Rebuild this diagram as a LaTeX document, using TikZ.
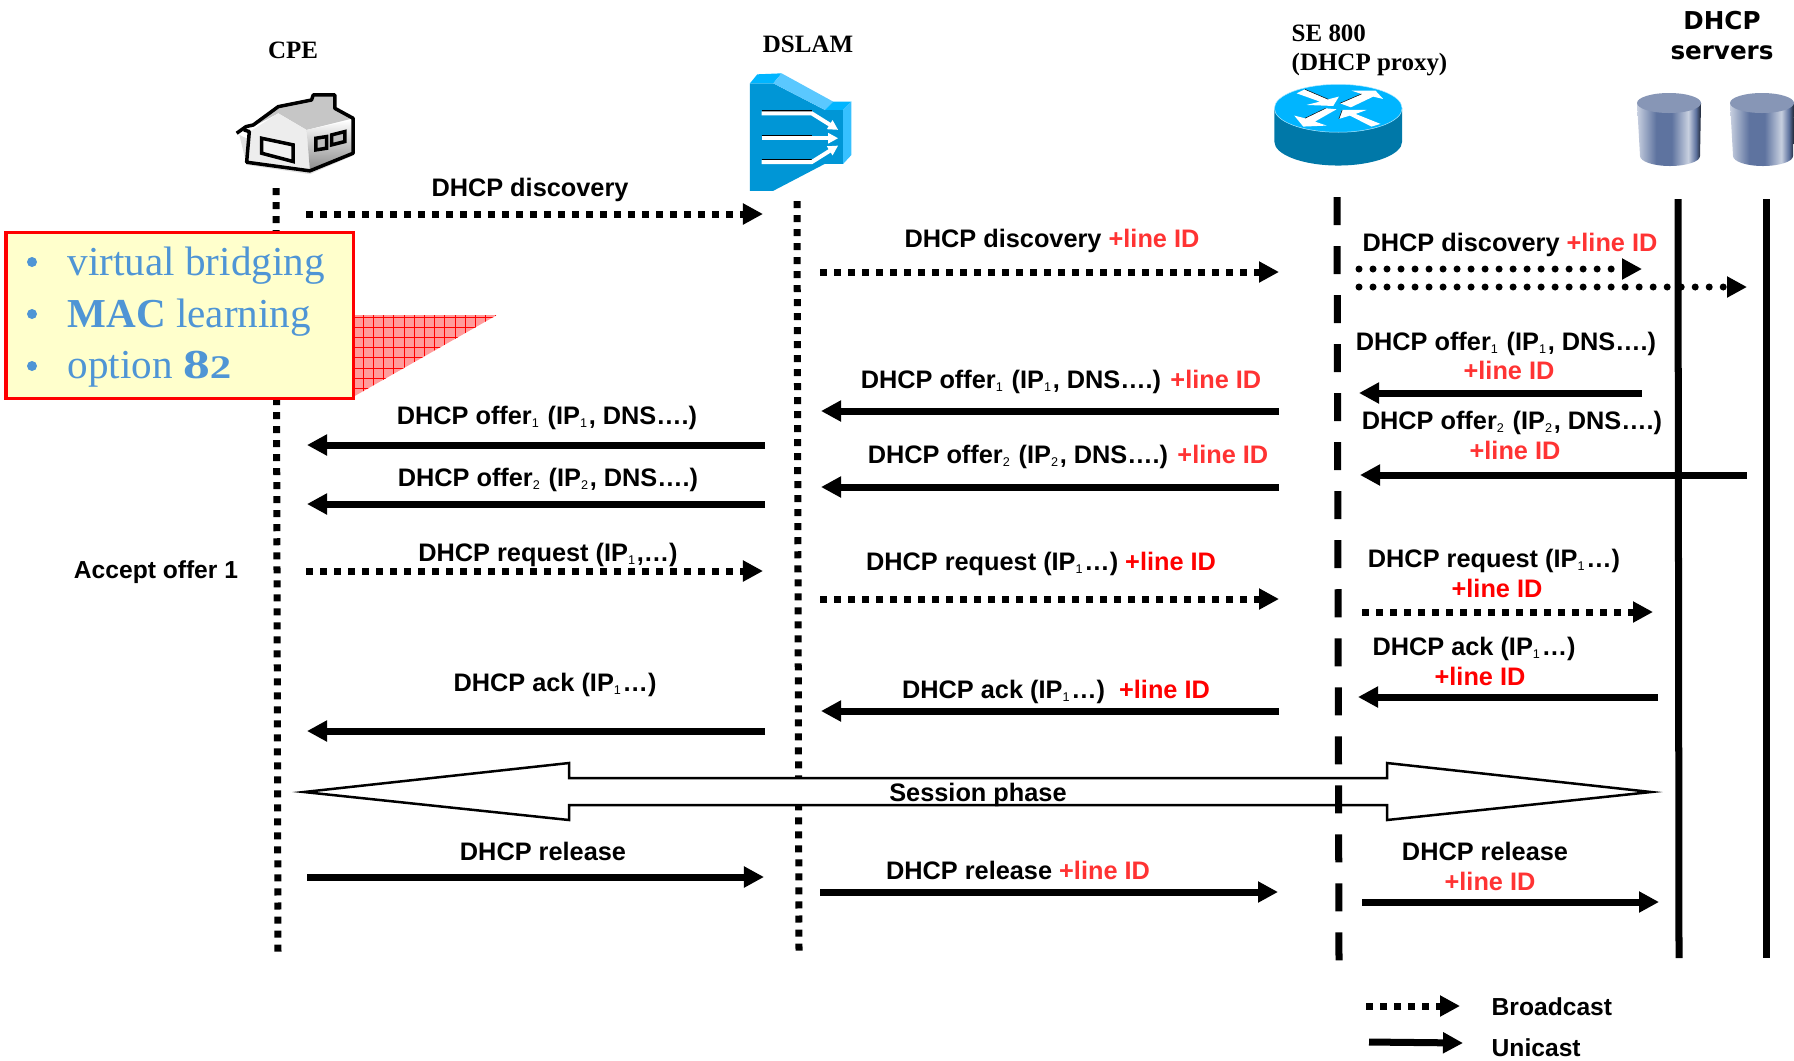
\documentclass[tikz,border=0pt]{standalone}
\usepackage{fontspec}
\usepackage{tikz}
\usetikzlibrary{arrows.meta, positioning, shapes}

\newfontfamily\sansbold{Liberation Sans}
\newfontfamily\serifbold{Liberation Serif}
\newfontfamily\dejabold{DejaVu Sans}

\definecolor{idred}{HTML}{FF3333}
\definecolor{idpure}{HTML}{FF0000}
\definecolor{boxfill}{HTML}{FFFFCC}
\definecolor{boxtext}{HTML}{4F95D5}
\definecolor{hatchfill}{HTML}{FF9C9C}
\definecolor{blueface}{HTML}{0096D6}
\definecolor{bluetop}{HTML}{00B5FF}
\definecolor{bluelite}{HTML}{5AC8FF}
\definecolor{bluebody}{HTML}{0078A8}
\definecolor{cyltop}{HTML}{8796B6}
\definecolor{cylband}{HTML}{5E739F}
\definecolor{cyllite}{HTML}{C8D0E0}

\pgfdeclarehorizontalshading{cylshade}{100bp}{
  color(0bp)=(cyllite);
  color(25bp)=(cyllite);
  color(40bp)=(cylband);
  color(52bp)=(cylband);
  color(65bp)=(cyllite);
  color(71bp)=(cylband);
  color(75bp)=(black!70!cylband);
  color(100bp)=(black)}

\newcommand{\lineid}{\textcolor{idred}{+line ID}}
\newcommand{\lineidp}{\textcolor{idpure}{+line ID}}
\newcommand{\subn}[1]{\textsubscript{\fontsize{3.6}{4}\selectfont\mdseries #1}}

\tikzset{
  txt/.style={inner sep=0pt, text height=4.6pt, text depth=0pt, font=\sansbold\fontsize{7.2}{8.6}\selectfont\bfseries},
  smalltxt/.style={txt, font=\sansbold\fontsize{7}{8.4}\selectfont\bfseries},
  redtxt/.style={txt, text=idred},
  purered/.style={txt, text=idpure},
  headtxt/.style={inner sep=0pt, text height=5pt, text depth=0pt, font=\serifbold\fontsize{7.1}{8.6}\selectfont\bfseries},
  srvtxt/.style={inner sep=0pt, text height=5pt, text depth=0pt, font=\dejabold\fontsize{7}{8.4}\selectfont\bfseries},
  boxtxt/.style={inner sep=0pt, anchor=base west, text=boxtext, font=\serifbold\fontsize{11.7}{14}\selectfont},
  broadcast/.style={line width=0.07cm, dash pattern=on 0.07cm off 0.07cm, -{Triangle[length=0.2cm,width=0.2cm]}},
  roundcast/.style={line width=0.07cm, line cap=round, dash pattern=on 0pt off 0.14cm, -{Triangle[length=0.2cm,width=0.2cm]}},
  unicast/.style={line width=0.07cm, -{Triangle[length=0.2cm,width=0.2cm]}},
  lifedot/.style={line width=0.07cm, dash pattern=on 0.07cm off 0.07cm},
  lifedash/.style={line width=0.07cm, dash pattern=on 0.28cm off 0.21cm},
  lifeline/.style={line width=0.07cm}
}

\begin{document}
\begin{tikzpicture}[x=0.01cm, y=-0.01cm]
\useasboundingbox (0,0) rectangle (1794,1060);

% Lifeline ends
\coordinate (CPEtop) at (276,188);
\coordinate (CPEbot) at (278,953);
\coordinate (DSLtop) at (797,201);
\coordinate (DSLbot) at (799,952);
\coordinate (SEtop)  at (1337,197);
\coordinate (SEbot)  at (1339,962);
\coordinate (SRAtop) at (1678,199);
\coordinate (SRAbot) at (1679,958);
\coordinate (SRBtop) at (1766,199);
\coordinate (SRBbot) at (1766,958);

% Arrow ends
\coordinate (disAa) at (306,214);   \coordinate (disAb) at (763,214);
\coordinate (disBa) at (820,272);   \coordinate (disBb) at (1279,272);
\coordinate (disCa) at (1359,269);  \coordinate (disCb) at (1642,269);
\coordinate (disDa) at (1359,287);  \coordinate (disDb) at (1747,287);
\coordinate (ofaAa) at (765,445);   \coordinate (ofaAb) at (307,445);
\coordinate (ofbAa) at (765,504);   \coordinate (ofbAb) at (307,504);
\coordinate (ofaBa) at (1279,411);  \coordinate (ofaBb) at (821,411);
\coordinate (ofbBa) at (1279,487);  \coordinate (ofbBb) at (821,487);
\coordinate (ofaCa) at (1642,393);  \coordinate (ofaCb) at (1359,393);
\coordinate (ofbCa) at (1747,475);  \coordinate (ofbCb) at (1360,475);
\coordinate (reqAa) at (306,571);   \coordinate (reqAb) at (763,571);
\coordinate (reqBa) at (820,599);   \coordinate (reqBb) at (1279,599);
\coordinate (reqCa) at (1362,612);  \coordinate (reqCb) at (1653,612);
\coordinate (ackAa) at (765,731);   \coordinate (ackAb) at (307,731);
\coordinate (ackBa) at (1279,711);  \coordinate (ackBb) at (821,711);
\coordinate (ackCa) at (1658,697);  \coordinate (ackCb) at (1358,697);
\coordinate (relAa) at (307,877);   \coordinate (relAb) at (764,877);
\coordinate (relBa) at (820,892);   \coordinate (relBb) at (1278,892);
\coordinate (relCa) at (1362,902);  \coordinate (relCb) at (1659,902);
\coordinate (legAa) at (1366,1006); \coordinate (legAb) at (1460,1006);
\coordinate (legBa) at (1369,1042); \coordinate (legBb) at (1463,1043);

% Lifelines
\draw[lifedot] (CPEtop) -- (CPEbot);
\draw[lifedot] (DSLtop) -- (DSLbot);
\draw[lifeline] (SRAtop) -- (SRAbot);
\draw[lifeline] (SRBtop) -- (SRBbot);

% Session phase
\draw[line width=0.025cm, fill=white, miter limit=20] (304,792) -- (569,763) -- (569,778) -- (1387,778) -- (1387,763) -- (1651,792)
  -- (1387,820) -- (1387,805) -- (569,805) -- (569,820) -- cycle;
\draw[lifedash] (SEtop) -- (SEbot);
\node[txt] (session) at (978,793) {Session phase};

% Hatched wedge
\begin{scope}
\clip (353,315) -- (497,315) -- (353,397) -- cycle;
\fill[hatchfill] (353,315) rectangle (497,397);
\foreach \i in {0,...,14} {
  \draw[red, line width=0.008cm] (353+\i*10.2,315) -- (353+\i*10.2,397);
}
\foreach \i in {0,...,8} {
  \draw[red, line width=0.008cm] (353,317+\i*10.2) -- (497,317+\i*10.2);
}
\end{scope}

% Note box
\draw[red, line width=0.03cm, fill=boxfill] (6,232) rectangle (353,398);
\fill[boxtext] (32,262) circle (5);
\fill[boxtext] (32,314) circle (5);
\fill[boxtext] (32,366) circle (5);
\node[boxtxt] (vbridge) at (67,275) {virtual bridging};
\node[boxtxt] (maclearn) at (67,327) {\textbf{MAC} learning};
\node[boxtxt] (optionb) at (67,378) {option \scalebox{1.3}[1]{\textbf{8{\fontsize{9.4}{10}\selectfont 2}}}};

% CPE house
\begin{scope}[shift={(230,85)}, x=0.00333cm, y=-0.00333cm]
\fill[black!12] (28,150) -- (50,240) -- (240,268) -- (375,210) -- (240,250) -- cycle;
\fill[gray!45] (60,130) -- (145,65) -- (245,45) -- (250,30) -- (315,30) -- (315,70) -- (370,100) -- (230,135) -- (145,85) -- cycle;
\fill[black!7] (60,140) -- (145,85) -- (230,135) -- (240,255) -- (50,232) -- cycle;
\shade[top color=white, bottom color=black!45] (230,135) -- (370,105) -- (370,205) -- (240,255) -- cycle;
\draw[line width=0.035cm, line join=round] (20,145) -- (48,125) -- (70,120) -- (145,65) -- (245,45) -- (250,30) -- (315,30) -- (315,70) -- (370,100)
  -- (370,205) -- (240,258) -- (50,232) -- (58,140) -- (42,135);
\draw[line width=0.035cm, fill=black!5] (95,160) -- (190,180) -- (190,230) -- (95,205) -- cycle;
\draw[line width=0.035cm, fill=black!25] (258,160) -- (290,155) -- (290,190) -- (258,195) -- cycle;
\draw[line width=0.035cm, fill=black!25] (305,150) -- (345,140) -- (345,170) -- (305,180) -- cycle;
\end{scope}

% DSLAM icon
\begin{scope}[shift={(740,65)}, x=0.00333cm, y=-0.00333cm]
\fill[blueface] (30,55) -- (100,55) -- (255,135) -- (310,135) -- (310,297) -- (255,297) -- (100,378) -- (30,378) -- cycle;
\fill[bluetop] (30,55) -- (52,28) -- (125,25) -- (100,55) -- cycle;
\fill[bluelite] (125,25) -- (280,110) -- (255,135) -- (100,55) -- cycle;
\fill[bluetop] (255,135) -- (280,110) -- (335,110) -- (310,135) -- cycle;
\fill[bluelite!60!bluetop] (310,135) -- (335,110) -- (335,270) -- (310,297) -- cycle;
\foreach \yy/\zz in {145/195, 220/220, 292/242} {
  \draw[black, line width=0.02cm] (65,\yy-6) -- (215,\yy-6);
  \draw[white, line width=0.04cm, -{Triangle[length=0.1cm,width=0.1cm]}] (65,\yy) -- (215,\yy) -- (295,\zz);
}
\end{scope}

% SE 800 icon
\begin{scope}[shift={(1265,75)}, x=0.00333cm, y=-0.00333cm]
\fill[bluebody] (28,100) -- (28,200) arc[start angle=180, end angle=360, x radius=192, y radius=-72] -- (412,100) -- cycle;
\fill[bluetop, draw=white!70!bluetop, line width=0.005cm] (220,100) ellipse (192 and 72);
\fill[white] (95,55) -- (120,43) -- (190,73) -- (222,65) -- (205,93) -- (125,90) -- (165,80) -- cycle;
\fill[white] (225,85) -- (290,57) -- (260,47) -- (332,47) -- (355,72) -- (325,65) -- (258,97) -- cycle;
\fill[white] (215,103) -- (150,140) -- (185,152) -- (115,155) -- (88,122) -- (120,130) -- (182,100) -- cycle;
\fill[white] (222,132) -- (232,105) -- (305,105) -- (272,117) -- (347,147) -- (320,155) -- (255,122) -- cycle;
\draw[black, line width=0.005cm] (120,43) -- (190,73);
\draw[black, line width=0.005cm] (225,85) -- (290,57);
\draw[black, line width=0.005cm] (120,130) -- (182,100);
\draw[black, line width=0.005cm] (222,132) -- (232,105);
\end{scope}

% DHCP servers
\shade[shading=cylshade] (1637,103) -- (1640,156) arc[start angle=180, end angle=360, x radius=30, y radius=-10] -- (1701,103) -- cycle;
\fill[cyltop] (1669,103) ellipse (32 and 10);
\shade[shading=cylshade] (1730,103) -- (1733,156) arc[start angle=180, end angle=360, x radius=30, y radius=-10] -- (1794,103) -- cycle;
\fill[cyltop] (1762,103) ellipse (32 and 10);

% Headings
\node[headtxt] (cpe) at (293,50) {CPE};
\node[headtxt] (dslam) at (808,44) {DSLAM};
\node[headtxt, anchor=west] (sename) at (1291,33) {SE 800};
\node[headtxt, anchor=west] (seproxy) at (1291,62) {(DHCP proxy)};
\node[srvtxt] (srvname) at (1722,21) {DHCP};
\node[srvtxt] (srvlabel) at (1722,51) {servers};

% Discovery
\node[txt] (disA) at (530,188) {DHCP discovery};
\node[txt] (disB) at (1052,239) {DHCP discovery \lineid};
\node[txt] (disC) at (1510,243) {DHCP discovery \lineid};
\draw[broadcast] (disAa) -- (disAb);
\draw[broadcast] (disBa) -- (disBb);
\draw[roundcast] (disCa) -- (disCb);
\draw[roundcast] (disDa) -- (disDb);

% Offers
\node[txt] (ofaA) at (547,416) {DHCP offer\subn{1} (IP\subn{1}, DNS….)};
\node[txt] (ofbA) at (548,478) {DHCP offer\subn{2} (IP\subn{2}, DNS….)};
\node[txt] (ofaB) at (1061,380) {DHCP offer\subn{1} (IP\subn{1}, DNS….) \lineid};
\node[txt] (ofbB) at (1068,455) {DHCP offer\subn{2} (IP\subn{2}, DNS….) \lineid};
\node[txt] (ofaC) at (1506,342) {DHCP offer\subn{1} (IP\subn{1}, DNS….)};
\node[redtxt] (ofaD) at (1509,371) {+line ID};
\node[txt] (ofbC) at (1512,421) {DHCP offer\subn{2} (IP\subn{2}, DNS….)};
\node[redtxt] (ofbD) at (1515,451) {+line ID};
\draw[unicast] (ofaAa) -- (ofaAb);
\draw[unicast] (ofbAa) -- (ofbAb);
\draw[unicast] (ofaBa) -- (ofaBb);
\draw[unicast] (ofbBa) -- (ofbBb);
\draw[unicast] (ofaCa) -- (ofaCb);
\draw[unicast] (ofbCa) -- (ofbCb);

% Requests
\node[smalltxt] (accept) at (156,570) {Accept offer 1};
\node[txt] (reqA) at (548,553) {DHCP request (IP\subn{1},…)};
\node[txt] (reqB) at (1041,562) {DHCP request (IP\subn{1}…) \lineidp};
\node[txt] (reqC) at (1494,559) {DHCP request (IP\subn{1}…)};
\node[purered] (reqD) at (1497,589) {+line ID};
\draw[broadcast] (reqAa) -- (reqAb);
\draw[broadcast] (reqBa) -- (reqBb);
\draw[broadcast] (reqCa) -- (reqCb);

% Acks
\node[txt] (ackA) at (555,683) {DHCP ack (IP\subn{1}…)};
\node[txt] (ackB) at (1056,690) {DHCP ack (IP\subn{1}…)\ \ \lineidp};
\node[txt] (ackC) at (1474,647) {DHCP ack (IP\subn{1}…)};
\node[purered] (ackD) at (1480,677) {+line ID};
\draw[unicast] (ackAa) -- (ackAb);
\draw[unicast] (ackBa) -- (ackBb);
\draw[unicast] (ackCa) -- (ackCb);

% Releases
\node[txt] (relA) at (543,852) {DHCP release};
\node[txt] (relB) at (1018,871) {DHCP release \lineid};
\node[txt] (relC) at (1485,852) {DHCP release};
\node[redtxt] (relD) at (1490,882) {+line ID};
\draw[unicast] (relAa) -- (relAb);
\draw[unicast] (relBa) -- (relBb);
\draw[unicast] (relCa) -- (relCb);

% Legend
\draw[broadcast] (legAa) -- (legAb);
\draw[unicast] (legBa) -- (legBb);
\node[smalltxt, anchor=west] (legA) at (1491,1007) {Broadcast};
\node[smalltxt, anchor=west] (legB) at (1491,1048) {Unicast};

\end{tikzpicture}
\end{document}
